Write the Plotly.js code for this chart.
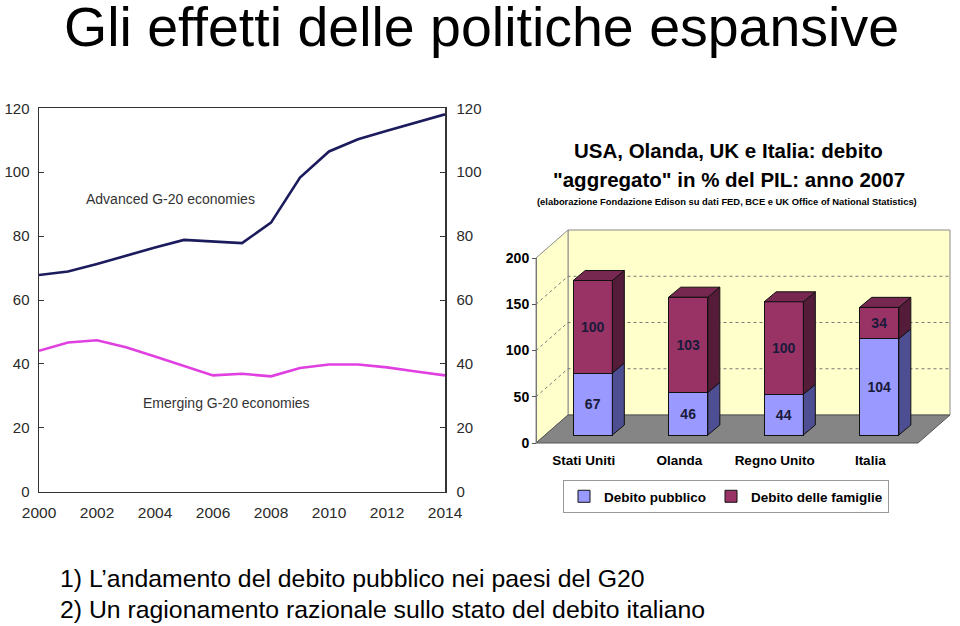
<!DOCTYPE html>
<html><head><meta charset="utf-8">
<script src="https://cdn.plot.ly/plotly-3.0.1.min.js"></script>
<style>html,body{margin:0;padding:0;background:#fff}#chart{width:960px;height:626px}</style>
</head><body><div id="chart"></div>
<script>
// ---------- DATA ----------
const years = [2000,2001,2002,2003,2004,2005,2006,2007,2008,2009,2010,2011,2012,2013,2014];
const advanced = [67.8,68.9,71.3,73.9,76.4,78.8,78.2,77.8,84.2,98.3,106.5,110.3,113.0,115.6,118.1];
const emerging = [44.1,46.7,47.4,45.2,42.3,39.3,36.4,36.9,36.1,38.7,39.8,39.8,38.9,37.6,36.4];
const xTickYears = [2000,2002,2004,2006,2008,2010,2012,2014];
const yTicks = [0,20,40,60,80,100,120];

const countries = ['Stati Uniti','Olanda','Regno Unito','Italia'];
const debitoPubblico = [67,46,44,104];
const debitoFamiglie = [100,103,100,34];
const barTicks = [0,50,100,150,200];
const barMax = 200;

// ---------- GEOMETRY ----------
const FONT = 'Liberation Sans, Arial, sans-serif';
const W = 960, H = 626;
const px = x => x / W;
const py = y => (H - y) / H;

const L = {x0: 39, x1: 445, y0: 491.7, y1: 108.3};
const R = {fx0: 536, fx1: 918, fy0: 443, scale: 0.925, barDx: 9, barDy: 8,
           depthX: 32, depthY: 28, barDepthX: 12, barDepthY: 10, barWidth: 0.41};

const nC = countries.length;
const catW = (R.fx1 - R.fx0) / nC;
const bx0 = R.fx0 + R.barDx;
const by0 = R.fy0 - R.barDy;
const dom2 = {x0: R.fx0 - 3, x1: R.fx1 + R.depthX + 3, y0: R.fy0 + 3, y1: R.fy0 - R.depthY - barMax * R.scale - 3};
const x2range = [(dom2.x0 - bx0) / catW - 0.5, (dom2.x1 - bx0) / catW - 0.5];
const y2range = [(by0 - dom2.y0) / R.scale, (by0 - dom2.y1) / R.scale];

const front = (c, v) => [c - R.barDx / catW, v - R.barDy / R.scale];
const back = (c, v) => [c + (R.depthX - R.barDx) / catW, v + (R.depthY - R.barDy) / R.scale];
const dxb = R.barDepthX / catW, dyb = R.barDepthY / R.scale;

function poly(pts) {
  return 'M' + pts.map(p => p[0].toFixed(4) + ',' + p[1].toFixed(4)).join('L') + 'Z';
}
function line(pts) {
  return 'M' + pts.map(p => p[0].toFixed(4) + ',' + p[1].toFixed(4)).join('L');
}

const idx = countries.map((c, i) => i);
const totals = idx.map(i => debitoPubblico[i] + debitoFamiglie[i]);
const shapes = [];
const cL = -0.5, cR = nC - 0.5;
// back wall
shapes.push({type: 'path', xref: 'x2', yref: 'y2', layer: 'below',
  path: poly([back(cL, 0), back(cR, 0), back(cR, barMax), back(cL, barMax)]),
  fillcolor: '#FFFFCC', line: {color: '#8a8a8a', width: 1}});
// side wall
shapes.push({type: 'path', xref: 'x2', yref: 'y2', layer: 'below',
  path: poly([front(cL, 0), back(cL, 0), back(cL, barMax), front(cL, barMax)]),
  fillcolor: '#FFFFCC', line: {color: '#8a8a8a', width: 1}});
// floor
shapes.push({type: 'path', xref: 'x2', yref: 'y2', layer: 'below',
  path: poly([front(cL, 0), front(cR, 0), back(cR, 0), back(cL, 0)]),
  fillcolor: '#858585', line: {color: '#555', width: 1}});
// grid lines
barTicks.filter(v => v > 0 && v < barMax).forEach(v => {
  shapes.push({type: 'path', xref: 'x2', yref: 'y2', layer: 'below',
    path: line([front(cL, v), back(cL, v), back(cR, v)]),
    line: {color: '#777', width: 1, dash: 'dot'}});
});
// bar side and top faces
idx.forEach(i => {
  const hw = R.barWidth / 2;
  const segs = [[0, debitoPubblico[i], '#4E4E92'], [debitoPubblico[i], totals[i], '#551C3A']];
  segs.forEach(s => {
    shapes.push({type: 'path', xref: 'x2', yref: 'y2', layer: 'above',
      path: poly([[i + hw, s[0]], [i + hw + dxb, s[0] + dyb], [i + hw + dxb, s[1] + dyb], [i + hw, s[1]]]),
      fillcolor: s[2], line: {color: '#111', width: 1}});
  });
  shapes.push({type: 'path', xref: 'x2', yref: 'y2', layer: 'above',
    path: poly([[i - hw, totals[i]], [i + hw, totals[i]], [i + hw + dxb, totals[i] + dyb], [i - hw + dxb, totals[i] + dyb]]),
    fillcolor: '#772850', line: {color: '#111', width: 1}});
});

// ---------- TRACES ----------
const barText = {family: FONT, size: 14, color: '#1a1a3a', weight: 'bold'};
const traces = [
  {type: 'scatter', mode: 'lines', x: years, y: advanced, xaxis: 'x', yaxis: 'y',
   line: {color: '#1B1B5E', width: 2.6}, showlegend: false, hoverinfo: 'skip'},
  {type: 'scatter', mode: 'lines', x: years, y: emerging, xaxis: 'x', yaxis: 'y3',
   line: {color: '#E040E0', width: 2.6}, showlegend: false, hoverinfo: 'skip'},
  {type: 'bar', x: idx, y: debitoPubblico, xaxis: 'x2', yaxis: 'y2', name: 'Debito pubblico',
   width: R.barWidth, marker: {color: '#9999FF', line: {color: '#111', width: 1}},
   text: debitoPubblico.map(String), textposition: 'inside', insidetextanchor: 'middle', textangle: 0,
   constraintext: 'none', textfont: barText, hoverinfo: 'skip'},
  {type: 'bar', x: idx, y: debitoFamiglie, xaxis: 'x2', yaxis: 'y2', name: 'Debito delle famiglie',
   width: R.barWidth, marker: {color: '#993366', line: {color: '#111', width: 1}},
   text: debitoFamiglie.map(String), textposition: 'inside', insidetextanchor: 'middle', textangle: 0,
   constraintext: 'none', textfont: barText, hoverinfo: 'skip'},
  // transparent helper so the front-plane axes (category labels, 0-200 scale) are drawn
  {type: 'scatter', mode: 'markers', x: idx, y: totals, xaxis: 'x4', yaxis: 'y4',
   marker: {size: 1, opacity: 0}, showlegend: false, hoverinfo: 'skip'}
];

const leftAxisCommon = {range: [0, 120], tickvals: yTicks, ticks: 'inside', ticklen: 5, tickcolor: '#333',
  showline: true, linecolor: '#333', linewidth: 1.5, showgrid: false, zeroline: false,
  tickfont: {family: FONT, size: 15, color: '#2a2a2a'}};

const layout = {
  width: W, height: H, margin: {l: 0, r: 0, t: 0, b: 0},
  paper_bgcolor: '#ffffff', plot_bgcolor: 'rgba(0,0,0,0)',
  hovermode: false, barmode: 'stack', bargap: 0.5,
  font: {family: FONT, color: '#000'},
  xaxis: {domain: [px(L.x0), px(L.x1)], anchor: 'y', range: [years[0], years[years.length - 1]],
    tickvals: xTickYears, showline: true, mirror: true, linecolor: '#333', linewidth: 1.5,
    ticks: '', showgrid: false, zeroline: false, tickfont: {family: FONT, size: 15.5, color: '#2a2a2a'},
    ticklabelstandoff: 6},
  yaxis: Object.assign({domain: [py(L.y0), py(L.y1)], anchor: 'x', ticklabelstandoff: 5}, leftAxisCommon),
  yaxis3: Object.assign({overlaying: 'y', side: 'right', anchor: 'x', ticklabelstandoff: 7}, leftAxisCommon),
  xaxis2: {domain: [px(dom2.x0), px(dom2.x1)], anchor: 'y2', range: x2range, visible: false, fixedrange: true},
  yaxis2: {domain: [py(dom2.y0), py(dom2.y1)], anchor: 'x2', range: y2range, visible: false, fixedrange: true},
  xaxis4: {domain: [px(R.fx0), px(R.fx1)], anchor: 'y4', range: [-0.5, nC - 0.5],
    tickvals: idx, ticktext: countries, showline: false, ticks: '', showgrid: false, zeroline: false,
    tickfont: {family: FONT, size: 13.5, weight: 'bold', color: '#000'}, ticklabelstandoff: 7},
  yaxis4: {domain: [py(R.fy0), py(R.fy0 - barMax * R.scale)], anchor: 'free', position: px(R.fx0),
    range: [0, barMax], tickvals: barTicks, ticks: 'outside', ticklen: 4, tickcolor: '#555',
    showline: true, linecolor: '#777', showgrid: false, zeroline: false,
    tickfont: {family: FONT, size: 14, weight: 'bold', color: '#000'}},
  showlegend: true,
  legend: {orientation: 'h', traceorder: 'normal', x: px(726), xanchor: 'center', y: py(480), yanchor: 'top',
    bordercolor: '#999', borderwidth: 1, bgcolor: '#fff', itemwidth: 30,
    font: {family: FONT, size: 13.5, weight: 'bold', color: '#000'}},
  shapes: shapes,
  annotations: [
    {xref: 'paper', yref: 'paper', x: px(62), y: py(27), xanchor: 'left', yanchor: 'middle', showarrow: false,
     text: 'Gli effetti delle politiche espansive', font: {family: FONT, size: 55.5, color: '#000'}},
    {xref: 'paper', yref: 'paper', x: px(58), y: py(578), xanchor: 'left', yanchor: 'middle', showarrow: false,
     text: '1) L’andamento del debito pubblico nei paesi del G20', font: {family: FONT, size: 24.8, color: '#000'}},
    {xref: 'paper', yref: 'paper', x: px(58), y: py(609), xanchor: 'left', yanchor: 'middle', showarrow: false,
     text: '2) Un ragionamento razionale sullo stato del debito italiano', font: {family: FONT, size: 24.8, color: '#000'}},
    {xref: 'x', yref: 'y', x: 2004.55, y: 91.6, xanchor: 'center', yanchor: 'middle', showarrow: false,
     text: 'Advanced G-20 economies', font: {family: FONT, size: 14, color: '#333'}},
    {xref: 'x', yref: 'y', x: 2006.48, y: 27.8, xanchor: 'center', yanchor: 'middle', showarrow: false,
     text: 'Emerging G-20 economies', font: {family: FONT, size: 14, color: '#333'}},
    {xref: 'paper', yref: 'paper', x: px(728), y: py(150), xanchor: 'center', yanchor: 'middle', showarrow: false,
     text: 'USA, Olanda, UK e Italia: debito', font: {family: FONT, size: 20.5, weight: 'bold', color: '#000'}},
    {xref: 'paper', yref: 'paper', x: px(729), y: py(179), xanchor: 'center', yanchor: 'middle', showarrow: false,
     text: '"aggregato" in % del PIL: anno 2007', font: {family: FONT, size: 20.5, weight: 'bold', color: '#000'}},
    {xref: 'paper', yref: 'paper', x: px(727), y: py(201), xanchor: 'center', yanchor: 'middle', showarrow: false,
     text: '(elaborazione Fondazione Edison su dati FED, BCE e UK Office of National Statistics)',
     font: {family: FONT, size: 9.4, weight: 'bold', color: '#000'}}
  ]
};

Plotly.newPlot('chart', traces, layout, {displayModeBar: false, staticPlot: true});
</script>
</body></html>
